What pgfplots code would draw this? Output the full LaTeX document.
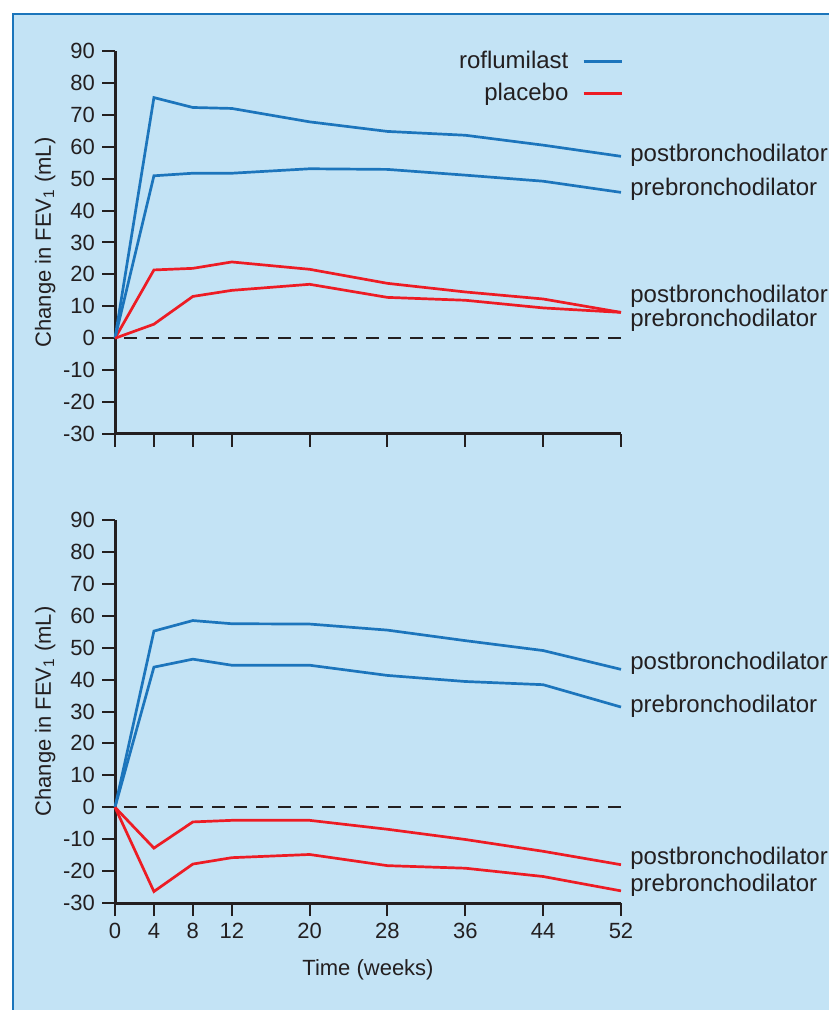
\documentclass[border=0pt]{standalone}
\usepackage{pgfplots}
\pgfplotsset{compat=1.18}
\usepackage{fontspec}
\setmainfont{Liberation Sans}
\definecolor{bgblue}{HTML}{C3E3F5}
\definecolor{frameblue}{HTML}{1B75BB}
\definecolor{lineblue}{HTML}{1C75BC}
\definecolor{linered}{HTML}{ED1C24}
\definecolor{ink}{HTML}{231F20}
\tikzset{lab/.style={anchor=west, xshift=4.5pt, font=\fontsize{12}{14}\selectfont, text=ink, inner sep=0pt},
  zeroline/.style={ink, line width=1.2pt, dash pattern=on 6.5pt off 4.5pt, dash phase=6.5pt}}
\pgfplotsset{
  panel/.style={
    scale only axis, width=253pt, height=191.5pt,
    xmin=0, xmax=52, ymin=-30, ymax=90,
    axis x line*=bottom, axis y line*=left,
    axis line style={-, line width=1.5pt, ink},
    xtick={0,4,8,12,20,28,36,44,52},
    ytick={-30,-20,-10,0,10,20,30,40,50,60,70,80,90},
    yticklabels={-30,-20,-10,0,10,20,30,40,50,60,70,80,90},
    tick align=outside, major tick length=6.5pt,
    tick style={ink, line width=1pt},
    ticklabel style={font=\fontsize{11}{13}\selectfont, text=ink},
    clip=false,
    every axis y label/.style={at={(axis description cs:-0.138,0.5)}, rotate=90, anchor=center, font=\fontsize{11}{13}\selectfont, text=ink},
    ylabel={Change in FEV\textsubscript{1} (mL)},
  },
}
\begin{document}
\begin{tikzpicture}
\useasboundingbox (0,0) rectangle (414.5pt,505pt);
\fill[white] (0,0) rectangle (414.5pt,505pt);
\fill[bgblue] (6pt,0) rectangle (414.5pt,498.5pt);
\draw[frameblue, line width=1.1pt] (6.5pt,0) -- (6.5pt,498pt) -- (414.5pt,498pt);

% ---------------- top panel ----------------
\begin{axis}[panel, at={(57.5pt,288pt)}, anchor=south west,
  xticklabels={},
  legend plot pos=right,
  legend style={at={(rel axis cs:1.005,1.01)}, anchor=north east, draw=none, fill=none,
    font=\fontsize{12}{14}\selectfont, text=ink, row sep=1.5pt, inner sep=0pt},
  legend cell align=right,
  legend image code/.code={\path (0pt,0pt); \draw[#1, line width=1.4pt] (5pt,0pt) -- (24pt,0pt);},
]
\addplot[zeroline, forget plot] coordinates {(0,0) (52,0)};
\addplot[lineblue, line width=1.35pt] coordinates {(0,0) (4,75.4) (8,72.3) (12,72.0) (20,67.8) (28,64.8) (36,63.6) (44,60.5) (52,57.0)};
\addlegendentry{roflumilast}
\addplot[linered, line width=1.35pt] coordinates {(0,0) (4,21.4) (8,21.9) (12,23.9) (20,21.6) (28,17.2) (36,14.5) (44,12.3) (52,8.1)};
\addlegendentry{placebo}
\addplot[lineblue, line width=1.35pt, forget plot] coordinates {(0,0) (4,50.9) (8,51.7) (12,51.7) (20,53.1) (28,52.9) (36,51.1) (44,49.2) (52,45.7)};
\addplot[linered, line width=1.35pt, forget plot] coordinates {(0,0) (4,4.4) (8,13.1) (12,15.0) (20,16.9) (28,12.8) (36,11.9) (44,9.5) (52,8.1)};
\node[lab] at (axis cs:52,57.4) {postbronchodilator};
\node[lab] at (axis cs:52,46.7) {prebronchodilator};
\node[lab] at (axis cs:52,13.2) {postbronchodilator};
\node[lab] at (axis cs:52,5.6) {prebronchodilator};
\end{axis}

% ---------------- bottom panel ----------------
\begin{axis}[panel, at={(57.5pt,53.5pt)}, anchor=south west,
  xticklabels={0,4,8,12,20,28,36,44,52},
  xlabel={Time (weeks)},
  every axis x label/.style={at={(axis description cs:0.5,-0.175)}, anchor=center, font=\fontsize{11}{13}\selectfont, text=ink},
]
\addplot[zeroline, forget plot] coordinates {(0,0) (52,0)};
\addplot[lineblue, line width=1.35pt] coordinates {(0,0) (4,55.2) (8,58.5) (12,57.5) (20,57.4) (28,55.5) (36,52.2) (44,49.1) (52,43.2)};
\addplot[lineblue, line width=1.35pt] coordinates {(0,0) (4,43.9) (8,46.4) (12,44.5) (20,44.5) (28,41.3) (36,39.4) (44,38.4) (52,31.4)};
\addplot[linered, line width=1.35pt] coordinates {(0,0) (4,-12.8) (8,-4.6) (12,-4.1) (20,-4.1) (28,-6.9) (36,-10.1) (44,-13.8) (52,-18.0)};
\addplot[linered, line width=1.35pt] coordinates {(0,0) (4,-26.4) (8,-17.8) (12,-15.8) (20,-14.8) (28,-18.3) (36,-19.1) (44,-21.7) (52,-26.2)};
\node[lab] at (axis cs:52,45.2) {postbronchodilator};
\node[lab] at (axis cs:52,31.7) {prebronchodilator};
\node[lab] at (axis cs:52,-16.1) {postbronchodilator};
\node[lab] at (axis cs:52,-24.3) {prebronchodilator};
\end{axis}
\end{tikzpicture}
\end{document}
